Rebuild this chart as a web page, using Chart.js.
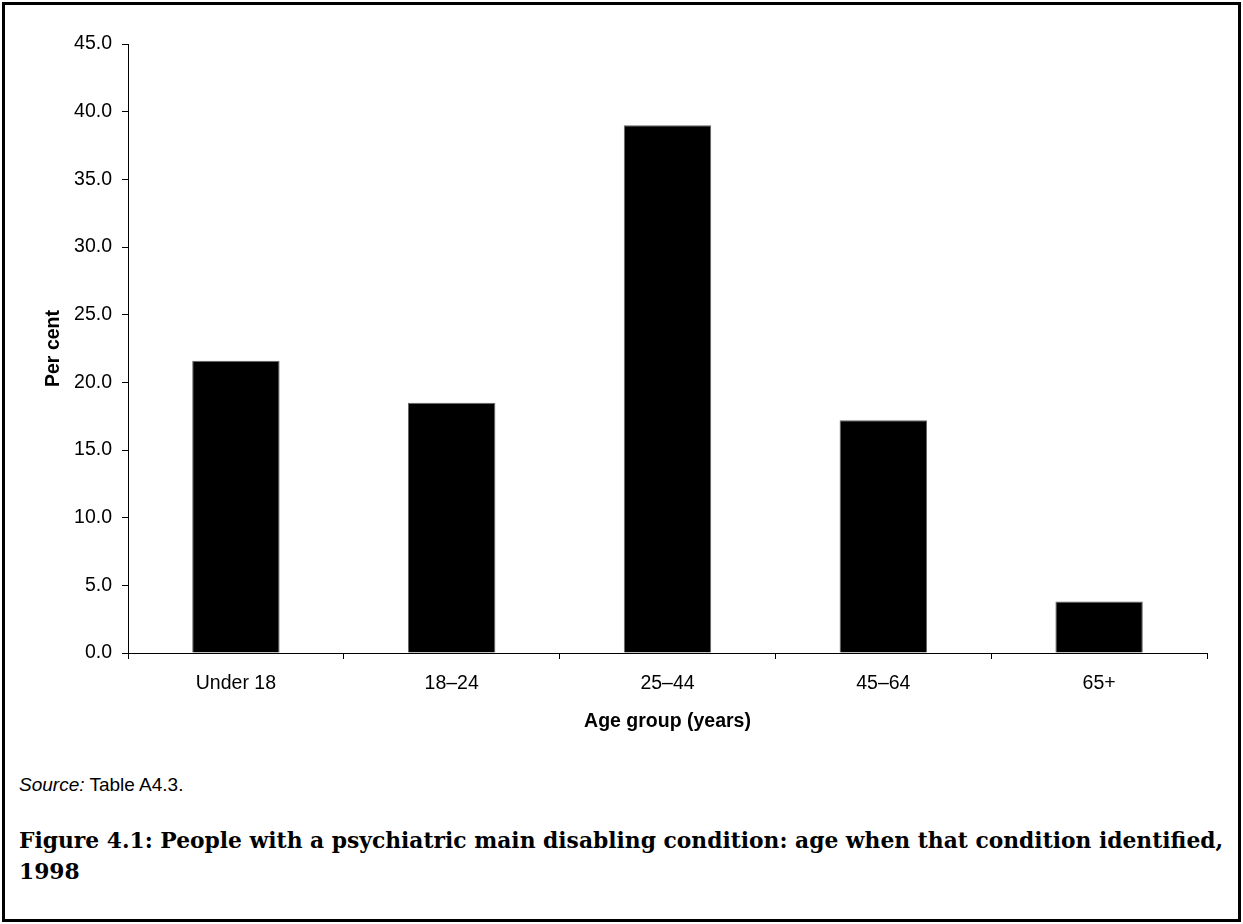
<!DOCTYPE html>
<html>
<head>
<meta charset="utf-8">
<script src="https://cdn.jsdelivr.net/npm/chart.js@4"></script>
<style>
  html, body { margin: 0; padding: 0; background: #fff; }
  #frame {
    position: absolute; left: 2px; top: 2px;
    width: 1233px; height: 914px;
    border: 3px solid #000;
  }
  #wrap { position: absolute; left: 0; top: 0; width: 1243px; height: 753px; }
  #source {
    position: absolute; left: 19px; top: 774px;
    font: 19px "Liberation Sans", Arial, sans-serif; line-height: 22px; color: #000;
  }
  #caption {
    position: absolute; left: 19px; top: 825px;
    font: bold 21.8px "DejaVu Serif", serif; line-height: 31px; color: #000;
    white-space: nowrap;
  }
</style>
</head>
<body>
<div id="frame"></div>
<div id="wrap"><canvas id="chart"></canvas></div>
<div id="source"><i>Source:</i> Table A4.3.</div>
<div id="caption">Figure 4.1: People with a psychiatric main disabling condition: age when that condition identified,<br>1998</div>
<script>
document.addEventListener("DOMContentLoaded", function () {
    const ageGroups = ["Under 18", "18–24", "25–44", "45–64", "65+"];
    const perCent = [21.6, 18.5, 39.0, 17.2, 3.8];

    const ctx = document.getElementById("chart").getContext("2d");
    const tickFont = { family: "'Liberation Sans', Arial, sans-serif", size: 19.5 };
    const titleFont = { family: "'Liberation Sans', Arial, sans-serif", size: 19.5, weight: "bold" };

    new Chart(ctx, {
        type: "bar",
        data: {
            labels: ageGroups,
            datasets: [{
                label: "Per cent",
                data: perCent,
                backgroundColor: "#000",
                borderColor: "#666",
                borderWidth: 1,
                barPercentage: 0.81,
                categoryPercentage: 0.5,
            }],
        },
        options: {
            responsive: true,
            maintainAspectRatio: false,
            animation: false,
            layout: { padding: { left: 0, right: 36, top: 44, bottom: 0 } },
            plugins: {
                legend: { display: false },
                tooltip: { enabled: false },
            },
            scales: {
                x: {
                    grid: { drawOnChartArea: false, drawTicks: true, tickLength: 6, color: "#000", offset: true },
                    border: { display: true, color: "#000", width: 1 },
                    ticks: { color: "#000", font: tickFont, padding: 13, maxRotation: 0 },
                    title: { display: true, text: "Age group (years)", color: "#000", font: titleFont, padding: { top: 0, bottom: 20 } },
                    afterFit: (scale) => { scale.height = 100; },
                },
                y: {
                    min: 0,
                    max: 45,
                    grid: { drawOnChartArea: false, drawTicks: true, tickLength: 6, color: "#000" },
                    border: { display: true, color: "#000", width: 1 },
                    ticks: {
                        stepSize: 5,
                        color: "#000",
                        font: tickFont,
                        padding: 10,
                        callback: (v) => v.toFixed(1),
                    },
                    title: { display: true, text: "Per cent", color: "#000", font: titleFont, padding: { top: 42, bottom: 0 } },
                    afterFit: (scale) => { scale.width = 128; },
                },
            },
        },
    });
});
</script>
</body>
</html>
